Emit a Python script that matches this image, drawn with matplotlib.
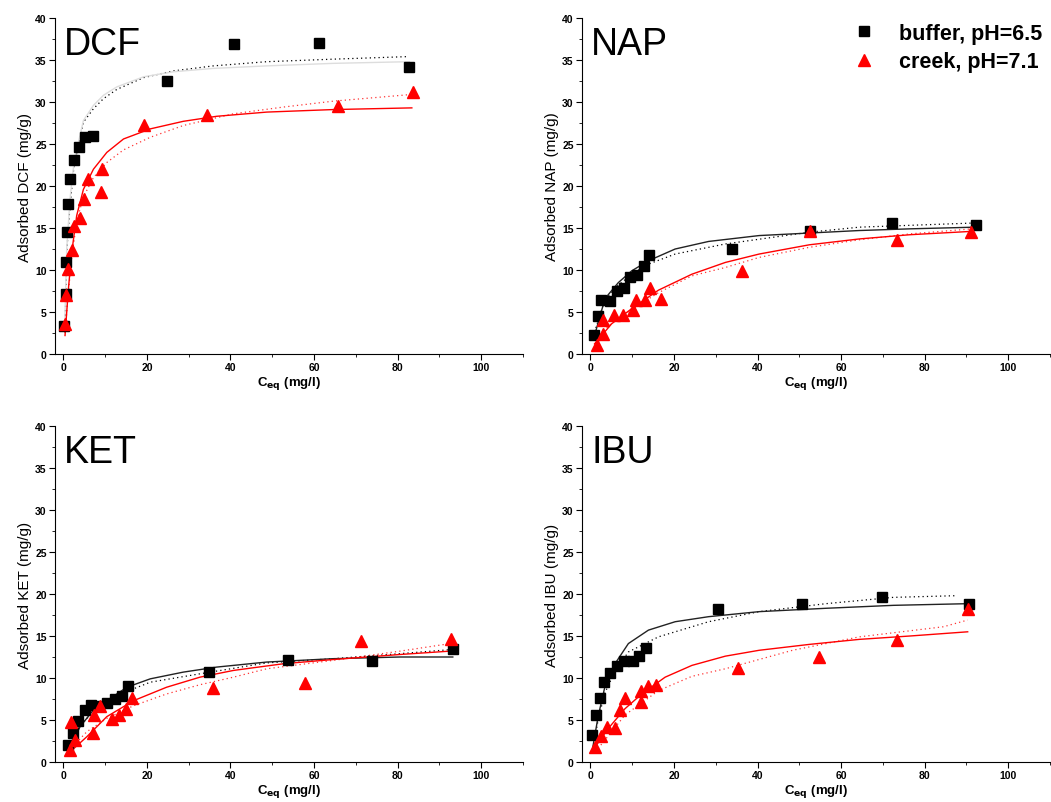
import matplotlib

matplotlib.use("Agg")
import matplotlib.pyplot as plt
from matplotlib.ticker import MultipleLocator

plt.rcParams["font.family"] = ["Liberation Sans", "DejaVu Sans"]

# ---- DCF ----
DCF_BUF_X = [0.24, 0.56, 0.7, 0.8, 1.2, 1.5, 2.55, 3.75, 5.1, 7.2, 24.7, 40.8, 61.1, 82.8]
DCF_BUF_Y = [3.3, 7.2, 10.9, 14.5, 17.9, 20.8, 23.1, 24.7, 25.8, 25.9, 32.5, 36.9, 37.0, 34.2]
DCF_CRK_X = [0.4, 0.7, 1.2, 2.0, 2.6, 4.1, 4.9, 5.8, 8.9, 9.2, 19.2, 34.3, 65.8, 83.6]
DCF_CRK_Y = [3.6, 7.0, 10.1, 12.4, 15.2, 16.2, 18.5, 20.8, 19.3, 22.0, 27.3, 28.4, 29.5, 31.2]
DCF_BUF_FIT_X = [0.3, 0.8, 1.6, 2.6, 4.8, 7.2, 9.6, 12.8, 19.2, 26.3, 35.9, 48.7, 64.6, 82.8]
DCF_BUF_FIT_Y = [3.0, 12.5, 18.5, 23.0, 27.8, 29.6, 30.8, 31.8, 33.0, 33.6, 34.0, 34.3, 34.6, 34.8]
DCF_BUF_DOT_X = [0.4, 0.8, 1.6, 2.55, 4.8, 7.2, 9.6, 12.8, 19.2, 26.3, 35.9, 48.7, 64.6, 82.2]
DCF_BUF_DOT_Y = [3.0, 12.1, 17.7, 22.4, 27.6, 29.2, 30.4, 31.5, 32.9, 33.7, 34.3, 34.8, 35.1, 35.4]
DCF_CRK_FIT_X = [0.4, 1.2, 2.0, 3.2, 4.8, 7.2, 10.4, 14.4, 20.8, 28.7, 36.7, 48.7, 64.6, 83.4]
DCF_CRK_FIT_Y = [2.2, 7.7, 12.1, 16.5, 19.6, 22.0, 24.0, 25.6, 26.8, 27.7, 28.3, 28.8, 29.1, 29.3]
DCF_CRK_DOT_X = [0.4, 1.2, 2.0, 3.2, 4.8, 7.2, 10.4, 14.4, 20.8, 28.7, 40.7, 52.7, 64.6, 83.4]
DCF_CRK_DOT_Y = [2.5, 7.3, 11.5, 15.8, 18.7, 21.0, 22.8, 24.3, 25.8, 27.2, 28.6, 29.4, 30.1, 30.9]

# ---- NAP ----
NAP_BUF_X = [0.9, 1.85, 2.5, 4.8, 6.3, 8.0, 9.5, 11.2, 12.8, 14.1, 34.0, 52.6, 72.1, 92.3]
NAP_BUF_Y = [2.3, 4.5, 6.4, 6.3, 7.5, 7.8, 9.2, 9.4, 10.5, 11.8, 12.5, 14.6, 15.6, 15.3]
NAP_CRK_X = [1.5, 3.0, 3.0, 5.7, 7.9, 10.1, 10.9, 13.1, 14.3, 16.9, 36.4, 52.6, 73.3, 91.1]
NAP_CRK_Y = [1.1, 2.4, 4.0, 4.65, 4.65, 5.25, 6.4, 6.4, 7.9, 6.5, 9.9, 14.7, 13.6, 14.5]
NAP_BUF_FIT_X = [1.0, 3.5, 6.7, 9.9, 13.9, 20.3, 28.3, 40.4, 52.4, 64.4, 76.5, 92.1]
NAP_BUF_FIT_Y = [2.2, 6.6, 8.5, 9.9, 11.1, 12.5, 13.4, 14.1, 14.4, 14.7, 14.9, 15.1]
NAP_BUF_DOT_X = [1.0, 3.5, 6.7, 9.9, 13.9, 20.3, 32.3, 52.4, 64.4, 92.1]
NAP_BUF_DOT_Y = [2.6, 6.5, 8.2, 9.5, 10.7, 11.9, 13.1, 14.5, 15.1, 15.6]
NAP_CRK_FIT_X = [1.0, 5.1, 9.9, 16.3, 24.3, 32.3, 40.4, 52.4, 64.4, 76.5, 91.3]
NAP_CRK_FIT_Y = [1.2, 3.6, 5.4, 7.6, 9.5, 10.9, 11.9, 13.0, 13.7, 14.2, 14.6]
NAP_CRK_DOT_X = [1.0, 5.1, 9.9, 16.3, 24.3, 32.3, 40.4, 52.4, 64.4, 76.5, 91.3]
NAP_CRK_DOT_Y = [1.6, 3.7, 5.3, 7.3, 9.3, 10.3, 11.5, 12.7, 13.6, 14.3, 14.9]

# ---- KET ----
KET_BUF_X = [1.2, 2.2, 3.6, 5.1, 6.6, 8.5, 10.5, 12.4, 14.1, 15.5, 34.8, 53.8, 73.9, 93.2]
KET_BUF_Y = [2.06, 3.45, 4.84, 6.23, 6.83, 6.63, 7.06, 7.46, 7.82, 9.0, 10.67, 12.2, 12.0, 13.5]
KET_CRK_X = [1.6, 1.9, 2.8, 7.0, 7.4, 8.8, 11.6, 13.4, 15.0, 16.4, 35.7, 57.9, 71.3, 92.7]
KET_CRK_Y = [1.39, 4.76, 2.66, 3.5, 5.56, 6.67, 5.16, 5.56, 6.35, 7.62, 8.77, 9.37, 14.4, 14.7]
KET_BUF_FIT_X = [1.6, 4.0, 7.2, 10.4, 15.2, 20.8, 28.7, 36.7, 48.7, 64.6, 80.6, 93.2]
KET_BUF_FIT_Y = [1.8, 4.2, 6.2, 7.3, 8.9, 9.9, 10.7, 11.3, 11.9, 12.3, 12.5, 12.5]
KET_BUF_DOT_X = [1.6, 4.0, 7.2, 10.4, 15.2, 20.8, 32.7, 48.7, 64.6, 80.6, 93.2]
KET_BUF_DOT_Y = [2.2, 4.3, 6.0, 7.0, 8.4, 9.5, 10.5, 11.8, 12.3, 12.9, 13.4]
KET_CRK_FIT_X = [1.6, 5.6, 10.4, 16.8, 24.7, 32.7, 40.7, 52.7, 64.6, 80.6, 92.6]
KET_CRK_FIT_Y = [1.2, 3.0, 5.4, 7.3, 8.9, 10.1, 10.9, 11.7, 12.2, 12.8, 13.2]
KET_CRK_DOT_X = [1.6, 5.6, 10.4, 16.8, 24.7, 32.7, 40.7, 48.7, 64.6, 80.6, 92.6]
KET_CRK_DOT_Y = [1.5, 3.6, 5.2, 6.7, 8.1, 9.2, 10.1, 11.1, 12.1, 13.2, 14.1]

# ---- IBU ----
IBU_BUF_X = [0.5, 1.4, 2.25, 3.3, 4.8, 6.4, 8.0, 10.1, 11.7, 13.4, 30.5, 50.6, 69.9, 90.5]
IBU_BUF_Y = [3.25, 5.63, 7.62, 9.52, 10.63, 11.39, 11.98, 12.02, 12.58, 13.57, 18.25, 18.77, 19.64, 18.85]
IBU_CRK_X = [1.2, 2.6, 3.9, 6.0, 7.1, 8.3, 12.0, 12.1, 13.7, 15.6, 35.3, 54.8, 73.4, 90.4]
IBU_CRK_Y = [1.79, 3.1, 4.17, 4.05, 6.15, 7.66, 8.45, 7.14, 9.05, 9.13, 11.23, 12.5, 14.48, 18.17]
IBU_BUF_FIT_X = [0.6, 1.85, 3.45, 5.9, 9.1, 13.9, 20.3, 28.3, 40.4, 56.4, 72.5, 90.5]
IBU_BUF_FIT_Y = [1.8, 5.4, 8.9, 11.7, 14.1, 15.7, 16.7, 17.3, 17.9, 18.3, 18.65, 18.85]
IBU_BUF_DOT_X = [0.6, 1.85, 3.45, 5.9, 9.1, 16.3, 28.3, 40.4, 56.4, 72.5, 87.7]
IBU_BUF_DOT_Y = [1.5, 5.0, 8.2, 10.8, 13.1, 14.9, 16.7, 17.9, 18.85, 19.6, 19.8]
IBU_CRK_FIT_X = [0.6, 4.3, 8.3, 12.3, 17.9, 24.3, 32.3, 40.4, 52.4, 64.4, 76.5, 90.3]
IBU_CRK_FIT_Y = [1.4, 4.0, 6.35, 8.1, 10.1, 11.5, 12.6, 13.3, 14.0, 14.6, 15.0, 15.5]
IBU_CRK_DOT_X = [1.2, 8.3, 16.3, 24.3, 32.3, 48.4, 64.4, 84.5, 90.3]
IBU_CRK_DOT_Y = [1.2, 5.6, 8.5, 10.2, 11.1, 13.3, 14.9, 16.1, 16.9]

RED = "#ff0000"
DOTS = (0, (1, 2.5))


def draw_panel(ax, name, buf, crk, buf_fit, buf_dot, crk_fit, crk_dot, buf_fit_color="#222222"):
    ax.plot(*buf_dot, color="black", linestyle=DOTS, linewidth=0.9)
    ax.plot(*buf_fit, color=buf_fit_color, linewidth=1.0)
    ax.plot(*crk_dot, color=RED, linestyle=DOTS, linewidth=0.9, alpha=0.8)
    ax.plot(*crk_fit, color=RED, linewidth=1.0)
    ax.plot(*buf, linestyle="none", marker="s", markersize=6.5, color="black",
            label="buffer, pH=6.5")
    ax.plot(*crk, linestyle="none", marker="^", markersize=8, color=RED,
            label="creek, pH=7.1")

    ax.set_xlim(-2, 110)
    ax.set_ylim(0, 40)
    ax.spines["top"].set_visible(False)
    ax.spines["right"].set_visible(False)
    ax.xaxis.set_major_locator(MultipleLocator(20))
    ax.xaxis.set_minor_locator(MultipleLocator(10))
    ax.yaxis.set_major_locator(MultipleLocator(5))
    ax.yaxis.set_minor_locator(MultipleLocator(2.5))
    ax.tick_params(which="major", direction="out", length=4, width=0.8, labelsize=7.5, pad=2)
    ax.tick_params(which="minor", direction="out", length=2, width=0.6)
    for lab in ax.get_xticklabels() + ax.get_yticklabels():
        lab.set_fontweight("bold")
    ax.set_xlabel("C$_{\\mathbf{eq}}$ (mg/l)", fontsize=9.5, fontweight="bold", labelpad=1)
    ax.set_ylabel(f"Adsorbed {name} (mg/g)", fontsize=11, labelpad=2)
    ax.text(0.02, 0.975, name, transform=ax.transAxes, fontsize=27,
            ha="left", va="top")


fig = plt.figure(figsize=(10.51, 8.03), dpi=100)
W, H = 1051, 803
ax_w = 468 / W
ax_h = 336 / H
ax1 = fig.add_axes([55 / W, 1 - 355 / H, ax_w, ax_h])
ax2 = fig.add_axes([582 / W, 1 - 355 / H, ax_w, ax_h])
ax3 = fig.add_axes([55 / W, 1 - 763 / H, ax_w, ax_h])
ax4 = fig.add_axes([582 / W, 1 - 763 / H, ax_w, ax_h])

draw_panel(ax1, "DCF", (DCF_BUF_X, DCF_BUF_Y), (DCF_CRK_X, DCF_CRK_Y),
           (DCF_BUF_FIT_X, DCF_BUF_FIT_Y), (DCF_BUF_DOT_X, DCF_BUF_DOT_Y),
           (DCF_CRK_FIT_X, DCF_CRK_FIT_Y), (DCF_CRK_DOT_X, DCF_CRK_DOT_Y),
           buf_fit_color="#dddddd")
draw_panel(ax2, "NAP", (NAP_BUF_X, NAP_BUF_Y), (NAP_CRK_X, NAP_CRK_Y),
           (NAP_BUF_FIT_X, NAP_BUF_FIT_Y), (NAP_BUF_DOT_X, NAP_BUF_DOT_Y),
           (NAP_CRK_FIT_X, NAP_CRK_FIT_Y), (NAP_CRK_DOT_X, NAP_CRK_DOT_Y))
draw_panel(ax3, "KET", (KET_BUF_X, KET_BUF_Y), (KET_CRK_X, KET_CRK_Y),
           (KET_BUF_FIT_X, KET_BUF_FIT_Y), (KET_BUF_DOT_X, KET_BUF_DOT_Y),
           (KET_CRK_FIT_X, KET_CRK_FIT_Y), (KET_CRK_DOT_X, KET_CRK_DOT_Y))
draw_panel(ax4, "IBU", (IBU_BUF_X, IBU_BUF_Y), (IBU_CRK_X, IBU_CRK_Y),
           (IBU_BUF_FIT_X, IBU_BUF_FIT_Y), (IBU_BUF_DOT_X, IBU_BUF_DOT_Y),
           (IBU_CRK_FIT_X, IBU_CRK_FIT_Y), (IBU_CRK_DOT_X, IBU_CRK_DOT_Y))

ax2.legend(loc="upper right", bbox_to_anchor=(1.01, 1.025), frameon=False,
           prop={"weight": "bold", "size": 15.5}, handletextpad=0.8,
           handlelength=1.6, labelspacing=0.35, markerscale=1.1, borderpad=0.1)

fig.savefig("out.png", dpi=100)
